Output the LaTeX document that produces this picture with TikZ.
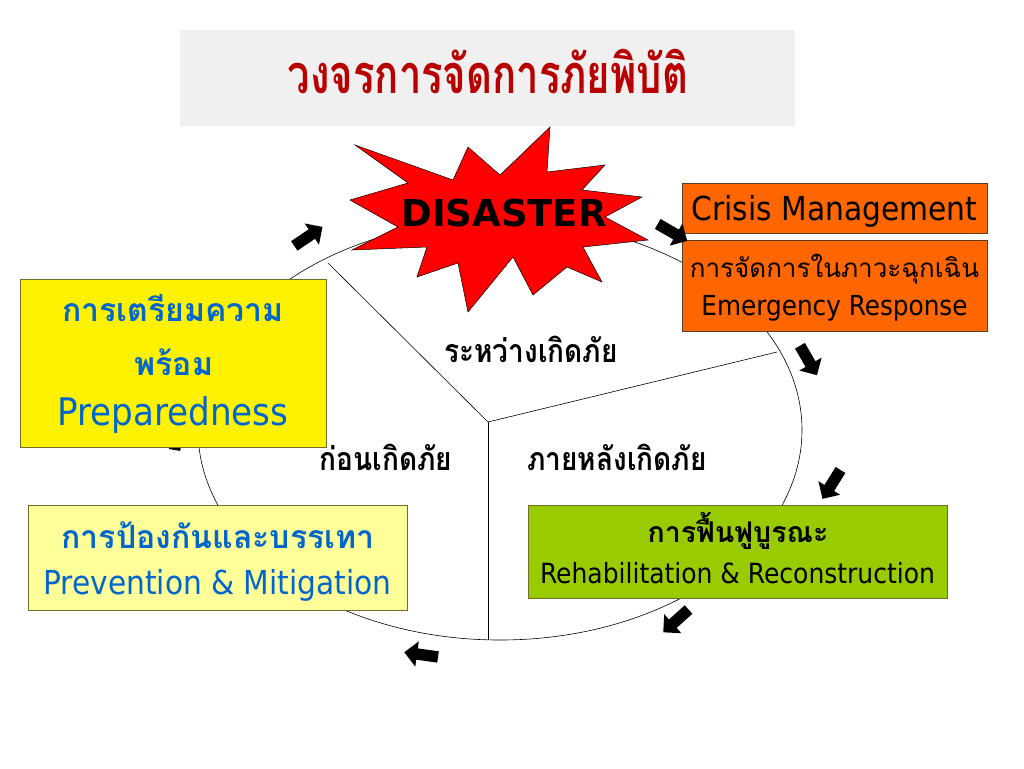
\documentclass[tikz,border=0pt]{standalone}
\usepackage{fontspec}
\setmainfont{DejaVu Sans Condensed}
\newfontfamily\widesans{DejaVu Sans}
\newfontfamily\thai[Script=Thai]{Loma}
\usetikzlibrary{shapes.arrows}
\definecolor{titlered}{RGB}{185,0,0}
\definecolor{titlegrey}{RGB}{240,240,240}
\definecolor{prepblue}{RGB}{0,102,204}
\definecolor{orangebox}{RGB}{255,102,0}
\definecolor{greenbox}{RGB}{153,204,0}
\definecolor{paleyellow}{RGB}{255,255,153}
\definecolor{oliveedge}{RGB}{110,110,40}
\definecolor{darkedge}{RGB}{90,60,40}
\tikzset{
  phasebox/.style={draw=#1, line width=0.8pt, inner sep=0pt},
  txt/.style={inner sep=0pt, anchor=base},
  blockarrow/.style={single arrow, fill=black, draw=none, inner xsep=0pt, inner ysep=5.5pt,
     minimum height=34pt, minimum width=23pt, single arrow head indent=0pt},
  phaselabel/.style={txt, font=\thai\bfseries\fontsize{28}{32}\selectfont},
  cycleline/.style={draw=black, line width=0.6pt}
}
\begin{document}
\begin{tikzpicture}[x=1pt,y=-1pt]
\useasboundingbox (0,0) rectangle (1024,768);
\fill[white] (0,0) rectangle (1024,768);
% title
\node[fill=titlegrey, minimum width=615pt, minimum height=96pt, inner sep=0pt] (titlebox) at (487.5,78) {};
\node[txt, text=titlered, font=\thai\bfseries\fontsize{40}{44}\selectfont] (title) at (488,93)
  {\scalebox{1}[1.35]{วงจรการจัดการภัยพิบัติ}};
% cycle
\path[cycleline] (500,430) ellipse [x radius=302pt, y radius=210pt];
\coordinate (hub) at (488,422);
\coordinate (spokeA) at (328,263);
\coordinate (spokeB) at (777,352);
\coordinate (spokeC) at (488,640);
\draw[cycleline] (hub) -- (spokeA);
\draw[cycleline] (hub) -- (spokeB);
\draw[cycleline] (hub) -- (spokeC);
% arrow mostly hidden behind the preparedness box
\node[blockarrow, rotate=80] (a7) at (177,436) {};
% starburst
\filldraw[fill=red, draw=black, line width=0.5pt]
  (550,127) -- (547,172) -- (605,165) -- (582,190) -- (642,197) -- (605,217)
  -- (648,240) -- (583,247) -- (602,282) -- (567,267) -- (533,295) -- (513,257)
  -- (468,312) -- (458,263) -- (417,277) -- (427,247) -- (352,250) -- (398,227)
  -- (350,200) -- (408,183) -- (355,145) -- (453,180) -- (468,147) -- (500,175) -- cycle;
\node[txt, font=\widesans\bfseries\fontsize{37}{40}\selectfont] (disaster) at (504,226) {DISASTER};
% orange boxes
\node[phasebox=darkedge, fill=orangebox, minimum width=305pt, minimum height=50pt] (crisis) at (834.5,208) {};
\node[txt, font=\fontsize{33}{36}\selectfont] (crisistxt) at (834.5,220) {Crisis Management};
\node[phasebox=darkedge, fill=orangebox, minimum width=305pt, minimum height=91pt] (emerg) at (834.5,285.5) {};
\node[txt, font=\thai\fontsize{26}{30}\selectfont] (emergth) at (834.5,277) {การจัดการในภาวะฉุกเฉิน};
\node[txt, font=\fontsize{27.5}{30}\selectfont] (emergen) at (834.5,315) {Emergency Response};
% preparedness
\node[phasebox=oliveedge, fill=yellow, minimum width=306pt, minimum height=168pt] (prep) at (173,363) {};
\node[txt, text=prepblue, font=\thai\bfseries\fontsize{32}{36}\selectfont] (prepth1) at (173,321) {การเตรียมความ};
\node[txt, text=prepblue, font=\thai\bfseries\fontsize{32}{36}\selectfont] (prepth2) at (174,375) {พร้อม};
\node[txt, text=prepblue, font=\fontsize{38}{42}\selectfont] (prepen) at (173,425) {Preparedness};
% prevention
\node[phasebox=oliveedge, fill=paleyellow, minimum width=379pt, minimum height=105pt] (prev) at (217.5,557.5) {};
\node[txt, text=prepblue, font=\thai\bfseries\fontsize{32}{36}\selectfont] (prevth) at (218,548) {การป้องกันและบรรเทา};
\node[txt, text=prepblue, font=\fontsize{33}{36}\selectfont] (preven) at (217.5,594) {Prevention \& Mitigation};
% rehabilitation
\node[phasebox=oliveedge, fill=greenbox, minimum width=419pt, minimum height=93pt] (rehab) at (737.5,551.5) {};
\node[txt, font=\thai\bfseries\fontsize{28.5}{32}\selectfont] (rehabth) at (738,542) {การฟื้นฟูบูรณะ};
\node[txt, font=\fontsize{27.8}{32}\selectfont] (rehaben) at (737.5,583) {Rehabilitation \& Reconstruction};
% phase labels
\node[phaselabel] (during) at (531,362) {\scalebox{1}[1.15]{ระหว่างเกิดภัย}};
\node[phaselabel] (before) at (386,470) {\scalebox{1}[1.15]{ก่อนเกิดภัย}};
\node[phaselabel] (after) at (617,470) {\scalebox{1}[1.15]{ภายหลังเกิดภัย}};
% block arrows
\node[blockarrow, rotate=34] (a1) at (306,238) {};
\node[blockarrow, rotate=-30] (a2) at (670,231) {};
\node[blockarrow, rotate=-60] (a3) at (807,358) {};
\node[blockarrow, rotate=-122] (a4) at (833,482) {};
\node[blockarrow, rotate=-138] (a5) at (678,619) {};
\node[blockarrow, rotate=172] (a6) at (424,655) {};
\end{tikzpicture}
\end{document}
